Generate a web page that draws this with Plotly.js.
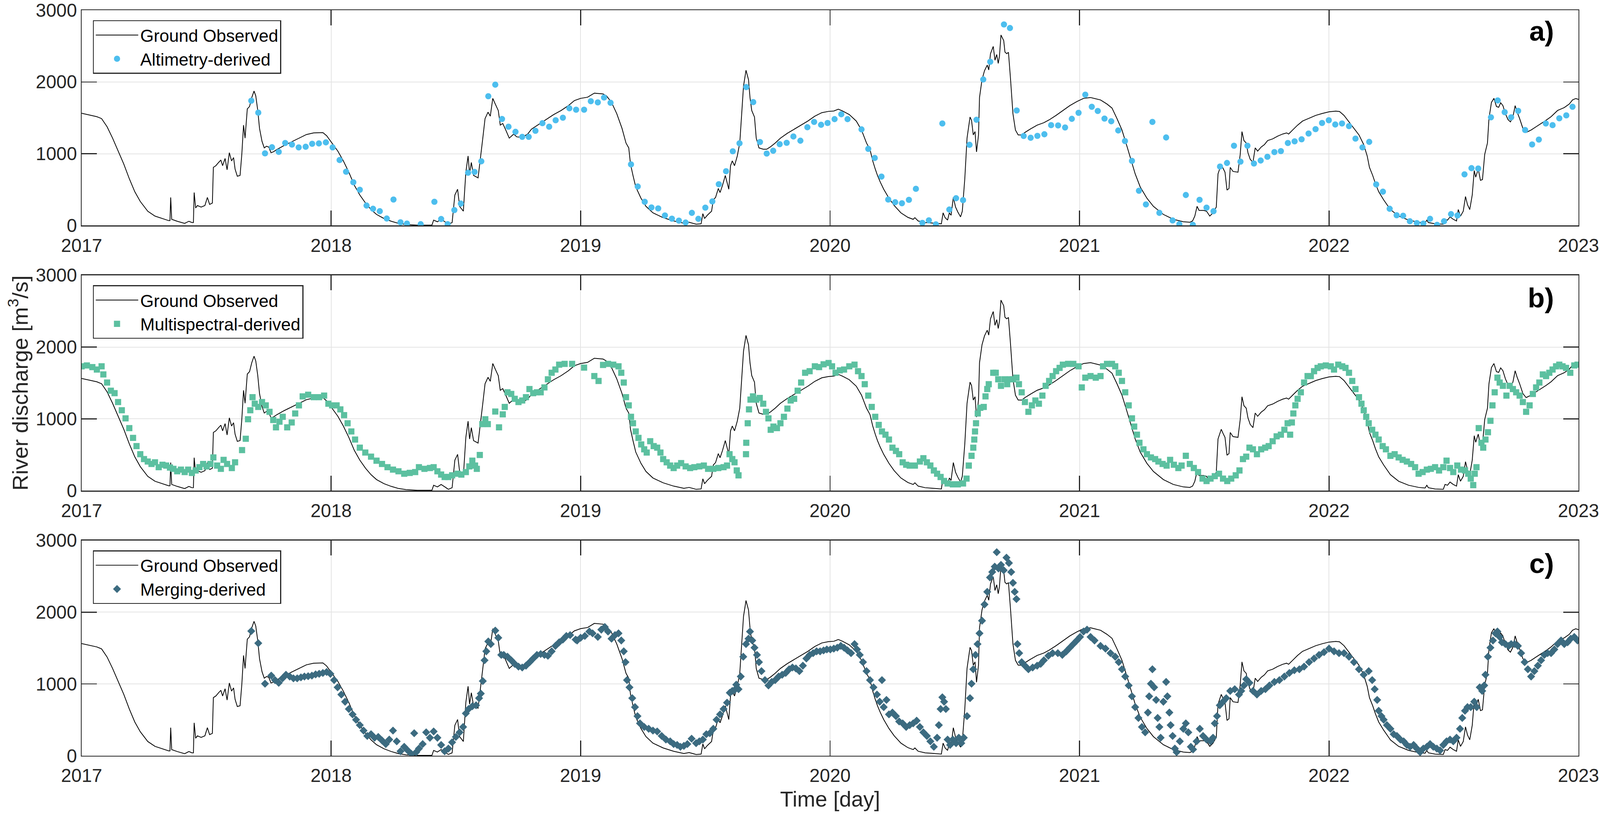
<!DOCTYPE html>
<html>
<head>
<meta charset="utf-8">
<script src="https://cdn.plot.ly/plotly-3.0.1.min.js"></script>
<style>
html,body{margin:0;padding:0;background:#fff;overflow:hidden;}
#chart{position:absolute;left:0;top:0;}
</style>
</head>
<body>
<div id="chart"></div>
<script>
// ---------------- DATA ----------------
const yearTicks = [2017, 2018, 2019, 2020, 2021, 2022, 2023];
const valueTicks = [0, 1000, 2000, 3000];

// Ground observed discharge (decimal year, m3/s)
const groundT = [
2017.000,2017.061,2017.080,2017.102,2017.124,2017.146,2017.169,2017.191,2017.213,2017.235,
2017.265,2017.294,2017.324,2017.349,2017.354,2017.357,2017.361,2017.383,2017.413,2017.430,
2017.442,2017.448,2017.451,2017.457,2017.464,2017.479,2017.494,2017.504,2017.513,2017.524,
2017.528,2017.538,2017.549,2017.558,2017.565,2017.575,2017.583,2017.592,2017.601,2017.609,
2017.615,2017.624,2017.635,2017.642,2017.649,2017.655,2017.664,2017.673,2017.682,2017.691,
2017.698,2017.706,2017.713,2017.723,2017.732,2017.741,2017.750,2017.759,2017.768,2017.783,
2017.812,2017.842,2017.871,2017.901,2017.930,2017.967,2017.982,2018.004,2018.027,2018.049,
2018.071,2018.093,2018.115,2018.138,2018.160,2018.182,2018.212,2018.241,2018.271,2018.300,
2018.345,2018.404,2018.411,2018.426,2018.441,2018.456,2018.470,2018.485,2018.496,2018.507,
2018.515,2018.530,2018.540,2018.549,2018.555,2018.562,2018.571,2018.589,2018.596,2018.608,
2018.617,2018.629,2018.638,2018.648,2018.658,2018.670,2018.678,2018.688,2018.700,2018.714,
2018.732,2018.744,2018.766,2018.788,2018.803,2018.833,2018.862,2018.892,2018.922,2018.951,
2018.975,2019.000,2019.028,2019.055,2019.090,2019.104,2019.124,2019.145,2019.166,2019.182,
2019.193,2019.200,2019.210,2019.221,2019.242,2019.262,2019.290,2019.331,2019.373,2019.414,
2019.435,2019.463,2019.483,2019.490,2019.497,2019.508,2019.525,2019.532,2019.541,2019.552,
2019.559,2019.569,2019.580,2019.587,2019.594,2019.601,2019.608,2019.617,2019.628,2019.638,
2019.646,2019.653,2019.663,2019.673,2019.679,2019.686,2019.697,2019.704,2019.715,2019.732,
2019.746,2019.760,2019.780,2019.801,2019.829,2019.856,2019.884,2019.911,2019.939,2019.967,
2019.994,2020.015,2020.033,2020.050,2020.077,2020.105,2020.126,2020.146,2020.160,2020.171,
2020.181,2020.190,2020.201,2020.215,2020.236,2020.257,2020.284,2020.312,2020.333,2020.340,
2020.353,2020.381,2020.409,2020.446,2020.453,2020.461,2020.471,2020.478,2020.485,2020.494,
2020.503,2020.512,2020.523,2020.530,2020.540,2020.549,2020.561,2020.567,2020.574,2020.581,
2020.587,2020.595,2020.599,2020.609,2020.619,2020.630,2020.636,2020.643,2020.654,2020.661,
2020.668,2020.674,2020.679,2020.685,2020.696,2020.701,2020.708,2020.715,2020.723,2020.733,
2020.743,2020.754,2020.768,2020.781,2020.802,2020.830,2020.857,2020.878,2020.906,2020.933,
2020.961,2020.989,2021.016,2021.044,2021.084,2021.110,2021.130,2021.150,2021.170,2021.190,
2021.210,2021.223,2021.243,2021.270,2021.296,2021.336,2021.376,2021.416,2021.442,2021.453,
2021.462,2021.471,2021.479,2021.498,2021.509,2021.522,2021.535,2021.548,2021.555,2021.562,
2021.568,2021.575,2021.583,2021.591,2021.599,2021.604,2021.615,2021.635,2021.644,2021.651,
2021.659,2021.668,2021.675,2021.684,2021.695,2021.704,2021.714,2021.728,2021.741,2021.754,
2021.774,2021.794,2021.814,2021.830,2021.838,2021.854,2021.874,2021.894,2021.920,2021.947,
2021.973,2022.000,2022.027,2022.042,2022.060,2022.080,2022.100,2022.120,2022.139,2022.153,
2022.162,2022.175,2022.186,2022.199,2022.219,2022.246,2022.279,2022.319,2022.359,2022.385,
2022.392,2022.398,2022.425,2022.458,2022.465,2022.475,2022.485,2022.498,2022.511,2022.518,
2022.527,2022.538,2022.547,2022.555,2022.564,2022.574,2022.582,2022.588,2022.598,2022.607,
2022.615,2022.624,2022.635,2022.641,2022.651,2022.661,2022.671,2022.680,2022.688,2022.697,
2022.707,2022.717,2022.727,2022.737,2022.746,2022.754,2022.764,2022.777,2022.790,2022.810,
2022.830,2022.850,2022.870,2022.890,2022.916,2022.943,2022.963,2022.976,2022.989,2023.000
];
const groundQ = [
1563,1516,1489,1376,1217,1036,855,652,471,335,
199,131,97,68,68,391,86,59,29,59,
41,41,459,244,278,256,278,391,294,312,
810,833,878,912,833,934,776,1014,900,946,
787,686,697,991,1398,1217,1624,1658,1783,1873,
1805,1602,1353,1172,1081,1104,1093,1014,1025,1059,
1115,1167,1217,1267,1290,1294,1251,1149,1036,900,
742,561,425,312,222,154,97,59,29,14,
5,5,75,52,86,52,18,41,425,505,
267,199,742,968,719,878,697,663,855,1217,
1489,1579,1523,1771,1692,1602,1398,1421,1330,1217,
1274,1235,1228,1274,1342,1410,1477,1545,1602,1670,
1740,1771,1787,1844,1833,1805,1715,1557,1353,1149,
1081,855,697,538,380,267,176,109,63,32,
45,18,23,165,97,143,199,357,391,516,
459,561,697,606,505,833,900,833,968,1149,
1557,1941,2163,2032,1783,1602,1511,1217,1081,1063,
1063,1093,1149,1217,1285,1342,1398,1455,1523,1572,
1590,1595,1620,1595,1545,1455,1330,1149,1059,900,
787,697,606,505,380,278,176,113,86,109,
63,41,34,23,176,109,75,176,143,391,
256,188,120,199,652,1217,1511,1466,1262,1308,
1025,1262,1783,2032,2156,2235,2167,2394,2495,2303,
2382,2258,2360,2654,2575,2416,2394,2412,2054,1557,
1330,1262,1262,1296,1342,1398,1432,1471,1534,1602,
1670,1726,1771,1783,1749,1692,1636,1489,1330,1104,
878,719,538,380,267,154,86,52,45,63,
131,267,210,210,199,131,176,256,719,787,
855,799,742,493,516,810,753,742,991,1308,
1183,1149,1014,923,878,1081,1036,1093,1127,1183,
1206,1244,1274,1290,1274,1330,1398,1455,1493,1534,
1561,1584,1593,1588,1534,1443,1353,1262,1127,968,
810,697,584,471,357,222,131,75,45,36,
75,41,23,18,86,75,120,86,63,222,
131,199,403,290,222,425,765,674,787,629,
640,991,1149,1489,1715,1771,1658,1647,1710,1670,
1557,1477,1443,1511,1670,1579,1489,1353,1296,1330,
1376,1421,1466,1516,1602,1643,1692,1749,1769,1756
];

// Altimetry-derived discharge
const altT = [
2017.680,2017.708,2017.735,2017.763,2017.790,2017.816,2017.843,2017.870,2017.898,2017.924,
2017.951,2017.979,2018.006,2018.034,2018.060,2018.089,2018.115,2018.142,2018.168,2018.195,
2018.223,2018.250,2018.278,2018.304,2018.359,2018.414,2018.441,2018.467,2018.494,2018.520,
2018.549,2018.575,2018.602,2018.630,2018.658,2018.685,2018.711,2018.739,2018.766,2018.792,
2018.819,2018.847,2018.874,2018.900,2018.929,2018.955,2018.982,
2019.014,2019.041,2019.069,2019.094,2019.120,
2019.202,2019.229,2019.257,2019.284,2019.311,2019.338,2019.366,2019.394,2019.421,2019.446,
2019.472,2019.500,2019.528,2019.554,2019.583,2019.610,2019.637,2019.664,2019.692,2019.719,
2019.746,2019.772,2019.798,2019.826,2019.853,2019.881,2019.909,2019.936,2019.964,2019.990,
2020.018,2020.045,2020.070,2020.126,2020.153,2020.179,2020.206,2020.233,2020.261,2020.288,
2020.316,2020.344,2020.370,2020.396,2020.424,2020.450,2020.478,2020.505,2020.533,2020.559,
2020.587,2020.614,2020.642,2020.697,2020.721,2020.748,2020.776,2020.804,2020.831,2020.859,
2020.886,2020.914,2020.942,2020.969,2020.996,2021.023,2021.049,2021.073,
2021.100,2021.127,2021.155,2021.182,2021.210,2021.238,2021.266,2021.292,2021.320,2021.347,
2021.373,2021.400,2021.426,2021.454,2021.481,2021.509,2021.537,2021.563,2021.591,2021.619,
2021.645,2021.673,2021.699,2021.726,2021.753,2021.781,2021.807,2021.835,2021.862,2021.890,
2021.918,2021.946,2021.972,2021.999,2022.025,2022.052,2022.080,2022.106,2022.134,2022.161,
2022.189,2022.216,2022.243,2022.271,2022.297,2022.324,2022.352,2022.378,2022.405,2022.433,
2022.461,2022.489,2022.515,2022.543,2022.571,2022.598,2022.649,2022.676,2022.704,2022.730,
2022.758,2022.786,2022.814,2022.841,2022.869,2022.896,2022.923,2022.951,2022.976
];
const altQ = [
1738,1572,1005,1090,1025,1149,1127,1088,1097,1138,
1143,1158,1088,912,749,602,498,278,233,199,
97,362,45,27,18,330,90,18,215,305,
735,747,894,1801,1962,1484,1376,1305,1235,1235,
1319,1425,1376,1466,1502,1633,1613,
1613,1731,1715,1783,1710,
851,543,330,251,238,140,95,68,41,176,
93,249,335,575,756,1034,1145,1928,1719,1163,
1002,1041,1133,1152,1240,1181,1369,1443,1403,1428,
1482,1550,1482,1339,1068,941,681,362,324,310,
357,511,36,72,16,1421,222,380,353,1124,
1473,2034,2281,2801,2751,1602,1247,1222,1249,1271,
1398,1394,1366,1486,1570,1823,1654,1595,
1489,1452,1324,1176,900,484,294,1443,176,1226,
70,18,425,9,357,249,199,821,871,1111,
889,1111,864,905,957,1023,1036,1149,1172,1201,
1281,1342,1428,1466,1407,1421,1385,1210,1088,1165,
572,471,233,143,136,59,34,27,93,9,
59,158,140,713,799,794,1507,1742,1579,1507,
1597,1330,1129,1197,1421,1398,1493,1534,1654
];

// Multispectral-derived discharge
const multiT = [
2017.000,2017.021,2017.043,2017.061,2017.080,2017.087,2017.102,2017.117,2017.132,2017.146,
2017.161,2017.176,2017.191,2017.206,2017.220,2017.235,2017.250,2017.265,2017.280,2017.294,
2017.309,2017.324,2017.339,2017.354,2017.368,2017.383,2017.398,2017.413,2017.427,2017.442,
2017.457,2017.472,2017.487,2017.501,2017.516,2017.528,2017.543,2017.558,2017.569,2017.583,
2017.602,2017.615,2017.643,2017.658,2017.667,2017.676,2017.685,2017.694,2017.708,2017.723,
2017.738,2017.753,2017.768,2017.779,2017.793,2017.806,2017.824,2017.842,2017.856,2017.871,
2017.886,2017.908,2017.930,2017.952,2017.972,2017.989,2018.004,2018.022,2018.037,2018.052,
2018.066,2018.081,2018.096,2018.115,2018.137,2018.160,2018.182,2018.204,2018.226,2018.248,
2018.270,2018.293,2018.315,2018.337,2018.352,2018.374,2018.396,2018.411,2018.426,2018.441,
2018.455,2018.470,2018.485,2018.507,2018.522,2018.540,2018.554,2018.566,2018.577,2018.584,
2018.596,2018.606,2018.618,2018.628,2018.658,2018.673,2018.688,2018.696,2018.707,2018.722,
2018.736,2018.751,2018.766,2018.781,2018.795,2018.810,2018.825,2018.840,2018.855,2018.869,
2018.884,2018.899,2018.914,2018.936,2018.966,2019.014,2019.055,2019.072,2019.090,2019.110,
2019.131,2019.152,2019.163,2019.173,2019.182,2019.193,2019.202,2019.210,2019.221,2019.232,
2019.243,2019.255,2019.265,2019.279,2019.293,2019.307,2019.320,2019.331,2019.345,2019.359,
2019.373,2019.387,2019.403,2019.421,2019.439,2019.456,2019.476,2019.494,2019.511,2019.532,
2019.552,2019.573,2019.587,2019.597,2019.608,2019.617,2019.626,2019.633,2019.663,2019.664,
2019.670,2019.675,2019.681,2019.691,2019.704,2019.718,2019.732,2019.743,2019.753,2019.762,
2019.773,2019.787,2019.801,2019.815,2019.829,2019.842,2019.856,2019.870,2019.884,2019.900,
2019.918,2019.939,2019.956,2019.974,2019.994,2020.008,2020.022,2020.039,2020.056,2020.077,
2020.098,2020.112,2020.126,2020.139,2020.153,2020.167,2020.181,2020.195,2020.208,2020.222,
2020.236,2020.250,2020.264,2020.277,2020.291,2020.305,2020.319,2020.340,2020.360,2020.374,
2020.388,2020.402,2020.416,2020.429,2020.443,2020.457,2020.471,2020.492,2020.512,2020.533,
2020.547,2020.556,2020.567,2020.574,2020.578,2020.581,2020.585,2020.592,2020.602,2020.616,
2020.623,2020.630,2020.636,2020.654,2020.664,2020.674,2020.685,2020.699,2020.710,2020.721,
2020.733,2020.747,2020.757,2020.768,2020.781,2020.795,2020.809,2020.823,2020.837,2020.851,
2020.864,2020.878,2020.892,2020.906,2020.920,2020.933,2020.954,2020.975,2020.996,2021.009,
2021.023,2021.044,2021.065,2021.084,2021.094,2021.110,2021.130,2021.143,2021.157,2021.170,
2021.183,2021.197,2021.210,2021.219,2021.230,2021.240,2021.256,2021.270,2021.286,2021.303,
2021.316,2021.333,2021.349,2021.363,2021.378,2021.396,2021.409,2021.426,2021.442,2021.458,
2021.475,2021.493,2021.509,2021.525,2021.542,2021.559,2021.575,2021.592,2021.608,2021.626,
2021.641,2021.655,2021.668,2021.681,2021.695,2021.711,2021.728,2021.744,2021.758,2021.774,
2021.790,2021.807,2021.821,2021.834,2021.844,2021.851,2021.857,2021.865,2021.874,2021.887,
2021.900,2021.914,2021.927,2021.940,2021.954,2021.967,2021.987,2022.007,2022.020,2022.037,
2022.053,2022.066,2022.080,2022.093,2022.106,2022.120,2022.130,2022.139,2022.149,2022.159,
2022.173,2022.186,2022.199,2022.215,2022.228,2022.246,2022.263,2022.279,2022.295,2022.312,
2022.329,2022.345,2022.359,2022.375,2022.392,2022.408,2022.425,2022.441,2022.458,2022.471,
2022.485,2022.498,2022.514,2022.529,2022.545,2022.558,2022.568,2022.578,2022.584,2022.591,
2022.600,2022.611,2022.618,2022.627,2022.637,2022.647,2022.655,2022.664,2022.675,2022.684,
2022.697,2022.711,2022.724,2022.737,2022.750,2022.764,2022.777,2022.790,2022.804,2022.817,
2022.830,2022.843,2022.857,2022.870,2022.883,2022.896,2022.910,2022.923,2022.936,2022.950,
2022.967,2022.983,2022.996
];
const multiQ = [
1732,1744,1721,1687,1732,1619,1506,1392,1358,1234,
1120,1007,871,735,621,508,440,406,372,395,
327,361,349,322,304,270,293,259,293,247,
281,327,372,338,372,463,349,304,429,372,
315,395,565,723,995,1120,1302,1211,1166,1234,
1188,1098,984,882,961,1029,882,950,1075,1188,
1313,1336,1302,1302,1324,1211,1188,1188,1132,1052,
939,825,712,599,531,474,417,372,327,293,
270,236,247,259,327,304,315,327,270,224,
190,190,213,236,224,259,338,417,349,304,
497,927,995,927,1102,882,1063,1166,1370,1347,
1279,1234,1256,1302,1415,1358,1370,1370,1438,1551,
1642,1687,1755,1766,1766,1714,1596,1528,1751,1766,
1755,1732,1642,1506,1302,1188,1029,939,825,735,
644,576,531,689,621,599,531,440,395,349,
315,349,383,338,315,327,338,349,304,304,
315,327,349,508,440,395,281,213,508,667,
939,1132,1268,1313,1268,1291,1211,1098,1007,848,
893,871,939,1029,1143,1256,1279,1392,1506,1642,
1664,1732,1721,1760,1778,1732,1642,1676,1687,1732,
1755,1664,1596,1483,1324,1166,1029,916,825,780,
712,599,553,508,395,361,349,349,406,451,
395,349,281,236,190,134,100,88,88,100,
168,349,485,599,712,825,939,1075,1154,1166,
1313,1415,1483,1642,1642,1551,1460,1551,1483,1551,
1551,1574,1483,1370,1234,1098,1188,1256,1211,1324,
1460,1528,1596,1664,1710,1755,1766,1766,1732,1438,
1574,1596,1574,1596,1732,1766,1766,1732,1642,1528,
1370,1188,1007,893,780,667,576,508,463,440,
406,372,349,429,361,315,349,485,372,315,
259,168,134,168,202,236,168,134,168,213,
281,440,474,599,576,508,576,599,621,689,
757,780,848,939,780,950,1075,1188,1279,1370,
1506,1596,1596,1664,1710,1732,1744,1732,1687,1755,
1732,1710,1642,1528,1415,1302,1211,1120,1029,939,
848,780,712,621,576,485,508,463,429,406,
372,327,236,259,293,304,327,281,327,417,
315,259,349,293,281,236,168,77,236,327,
871,667,599,712,814,973,1188,1370,1574,1506,
1460,1324,1460,1415,1370,1324,1234,1098,1188,1347,
1438,1506,1619,1596,1642,1687,1732,1755,1732,1710,
1642,1744,1755
];

// Merging-derived discharge
const mergeT = [
2017.680,2017.708,2017.735,2017.760,2017.775,2017.790,2017.805,2017.819,2017.834,2017.849,
2017.864,2017.879,2017.893,2017.908,2017.923,2017.938,2017.952,2017.967,2017.982,2017.997,
2018.012,2018.026,2018.041,2018.056,2018.071,2018.086,2018.100,2018.115,2018.130,2018.145,
2018.160,2018.174,2018.189,2018.204,2018.219,2018.233,2018.248,2018.263,2018.278,2018.293,
2018.307,2018.322,2018.333,2018.341,2018.352,2018.367,2018.381,2018.396,2018.411,2018.426,
2018.441,2018.455,2018.470,2018.485,2018.500,2018.515,2018.529,2018.540,2018.551,2018.566,
2018.581,2018.593,2018.600,2018.608,2018.615,2018.622,2018.630,2018.640,2018.658,2018.670,
2018.682,2018.692,2018.707,2018.722,2018.736,2018.751,2018.766,2018.781,2018.796,2018.810,
2018.825,2018.840,2018.855,2018.869,2018.884,2018.899,2018.914,2018.929,2018.943,2018.958,
2018.980,2018.986,2019.000,2019.017,2019.035,2019.048,2019.069,2019.083,2019.097,2019.110,
2019.124,2019.138,2019.152,2019.163,2019.173,2019.180,2019.186,2019.196,2019.207,2019.218,
2019.228,2019.238,2019.255,2019.273,2019.290,2019.307,2019.325,2019.342,2019.359,2019.373,
2019.387,2019.400,2019.414,2019.428,2019.445,2019.463,2019.476,2019.490,2019.504,2019.518,
2019.532,2019.545,2019.559,2019.573,2019.587,2019.598,2019.608,2019.617,2019.624,2019.633,
2019.642,2019.652,2019.663,2019.673,2019.679,2019.688,2019.697,2019.707,2019.715,2019.725,
2019.739,2019.753,2019.766,2019.780,2019.794,2019.808,2019.822,2019.836,2019.849,2019.863,
2019.877,2019.891,2019.905,2019.918,2019.932,2019.946,2019.960,2019.974,2019.987,2020.001,
2020.015,2020.029,2020.043,2020.056,2020.070,2020.084,2020.098,2020.108,2020.119,2020.132,
2020.146,2020.160,2020.174,2020.188,2020.199,2020.208,2020.215,2020.226,2020.236,2020.250,
2020.264,2020.277,2020.291,2020.305,2020.319,2020.333,2020.347,2020.360,2020.374,2020.388,
2020.402,2020.416,2020.429,2020.436,2020.443,2020.450,2020.457,2020.464,2020.471,2020.481,
2020.492,2020.505,2020.516,2020.526,2020.536,2020.549,2020.561,2020.567,2020.574,2020.583,
2020.591,2020.599,2020.609,2020.619,2020.630,2020.641,2020.650,2020.660,2020.668,2020.675,
2020.685,2020.696,2020.707,2020.717,2020.726,2020.733,2020.740,2020.747,2020.751,2020.758,
2020.768,2020.781,2020.795,2020.812,2020.830,2020.844,2020.857,2020.875,2020.892,2020.913,
2020.931,2020.947,2020.961,2020.975,2020.989,2021.002,2021.016,2021.030,2021.044,2021.060,
2021.084,2021.104,2021.124,2021.143,2021.157,2021.170,2021.183,2021.197,2021.210,2021.223,
2021.236,2021.250,2021.263,2021.274,2021.279,2021.286,2021.292,2021.299,2021.307,2021.313,
2021.320,2021.325,2021.336,2021.347,2021.352,2021.360,2021.365,2021.373,2021.382,2021.389,
2021.402,2021.416,2021.426,2021.436,2021.446,2021.455,2021.469,2021.482,2021.495,2021.509,
2021.525,2021.535,2021.542,2021.551,2021.562,2021.575,2021.588,2021.604,2021.622,2021.639,
2021.648,2021.659,2021.668,2021.681,2021.695,2021.711,2021.728,2021.745,2021.761,2021.781,
2021.801,2021.821,2021.841,2021.861,2021.881,2021.900,2021.920,2021.940,2021.960,2021.980,
2022.000,2022.020,2022.040,2022.060,2022.080,2022.100,2022.120,2022.139,2022.159,2022.173,
2022.183,2022.193,2022.199,2022.210,2022.219,2022.232,2022.246,2022.259,2022.272,2022.286,
2022.299,2022.312,2022.325,2022.339,2022.352,2022.365,2022.378,2022.392,2022.405,2022.418,
2022.432,2022.445,2022.458,2022.471,2022.485,2022.498,2022.511,2022.525,2022.534,2022.545,
2022.555,2022.568,2022.582,2022.592,2022.604,2022.614,2022.622,2022.627,2022.637,2022.647,
2022.657,2022.667,2022.675,2022.684,2022.693,2022.707,2022.720,2022.730,2022.744,2022.757,
2022.770,2022.784,2022.797,2022.810,2022.823,2022.837,2022.850,2022.863,2022.876,2022.890,
2022.903,2022.916,2022.930,2022.943,2022.956,2022.969,2022.983,2022.996
];
const mergeQ = [
1737,1568,1004,1117,1054,1016,1079,1129,1104,1079,
1079,1092,1104,1109,1117,1134,1142,1154,1167,1142,
1054,954,853,753,652,577,502,427,351,276,
301,251,263,213,163,226,351,201,63,125,
75,25,314,50,100,163,326,251,339,251,
151,63,100,188,263,326,401,590,652,690,
703,803,866,1041,1330,1455,1593,1556,1744,1644,
1405,1405,1380,1330,1280,1242,1230,1255,1305,1355,
1405,1418,1405,1393,1455,1531,1581,1619,1669,1681,
1619,1606,1644,1669,1731,1706,1656,1757,1794,1731,
1631,1681,1706,1606,1455,1305,1054,954,803,678,
552,452,401,376,351,339,276,226,201,163,
151,125,138,163,238,176,201,226,301,314,
376,502,577,652,740,878,903,916,991,928,
1104,1380,1556,1631,1731,1606,1506,1405,1305,1179,
1054,979,1029,1054,1104,1129,1154,1205,1230,1217,
1179,1255,1355,1405,1430,1455,1455,1468,1481,1481,
1493,1506,1531,1506,1468,1430,1556,1481,1405,1305,
1179,1054,954,853,753,1054,678,778,577,602,
552,477,452,401,427,452,489,401,326,276,
201,125,251,427,652,815,753,652,226,151,
226,176,251,176,251,552,803,1004,1205,1405,
1556,1706,1882,2108,2284,2484,2560,2635,2836,2610,
2660,2585,2760,2685,2560,2409,2284,2183,1556,1430,
1305,1255,1205,1230,1255,1280,1330,1393,1430,1430,
1405,1455,1506,1556,1606,1656,1731,1757,1656,1606,
1531,1493,1430,1380,1305,1205,1104,979,828,678,
527,401,326,602,828,1004,1205,954,778,527,
401,251,753,1029,828,602,427,276,100,50,
201,376,452,326,125,88,201,376,276,226,
201,251,452,552,703,753,803,903,928,853,
903,979,1066,1016,903,853,903,928,979,1029,
1054,1104,1154,1192,1205,1242,1305,1355,1405,1443,
1493,1455,1430,1430,1380,1305,1205,1129,1179,1054,
928,778,627,552,502,427,376,301,276,226,
201,151,125,151,100,50,100,125,163,125,
100,75,151,201,226,201,251,376,527,627,
678,678,753,678,954,903,979,1129,1380,1506,
1606,1706,1731,1656,1581,1556,1531,1556,1556,1531,
1430,1305,1205,1104,1179,1255,1330,1405,1430,1430,
1481,1556,1606,1556,1581,1631,1656,1606
];

// ---------------- STYLE ----------------
// The design is laid out for a 4145 x 2102 canvas; everything is scaled to the real viewport.
const BASE_W = 4145, BASE_H = 2102;
const vw = window.innerWidth || BASE_W, vh = window.innerHeight || BASE_H;
const S = Math.min(vw / BASE_W, vh / BASE_H);
const p = v => v * S;

const FONT = '"Liberation Sans", Arial, Helvetica, sans-serif';
const INK = '#262626';
const C_ALT = '#4DBEEE';
const C_MULTI = '#5CC0A0';
const C_MERGE = '#3C6B80';

function xAxis(anchor, showTitle) {
  const ax = {
    anchor: anchor, domain: [0, 1], range: [2017, 2023],
    tickmode: 'array', tickvals: yearTicks, ticktext: yearTicks.map(String),
    showline: true, linecolor: INK, linewidth: p(2.5), mirror: 'ticks',
    ticks: 'inside', ticklen: p(39), tickwidth: p(2.5), tickcolor: INK,
    showgrid: true, gridcolor: '#e4e4e4', gridwidth: p(2), zeroline: false,
    tickfont: {family: FONT, size: p(48), color: INK},
    ticklabelstandoff: Math.round(p(8)), ticklabeloverflow: 'allow'
  };
  if (showTitle) {
    ax.title = {text: 'Time [day]', font: {family: FONT, size: p(56), color: INK}, standoff: p(16)};
  }
  return ax;
}
function yAxis(anchor, domain, showTitle) {
  const ax = {
    anchor: anchor, domain: domain, range: [0, 3000],
    tickmode: 'array', tickvals: valueTicks, ticktext: valueTicks.map(String),
    showline: true, linecolor: INK, linewidth: p(2.5), mirror: 'ticks',
    ticks: 'inside', ticklen: p(39), tickwidth: p(2.5), tickcolor: INK,
    showgrid: true, gridcolor: '#e4e4e4', gridwidth: p(2), zeroline: false,
    tickfont: {family: FONT, size: p(48), color: INK},
    ticklabelstandoff: 0, ticklabeloverflow: 'allow'
  };
  if (showTitle) {
    ax.title = {text: 'River discharge [m<sup>3</sup>/s]', font: {family: FONT, size: p(57), color: INK}, standoff: p(2)};
  }
  return ax;
}
function legendBox(y) {
  return {
    x: 0.0075, y: y, xanchor: 'left', yanchor: 'top', xref: 'paper', yref: 'paper',
    bgcolor: '#ffffff', bordercolor: INK, borderwidth: p(2.5),
    font: {family: FONT, size: p(45), color: '#000'},
    itemwidth: Math.max(30, p(110)), tracegroupgap: 0, orientation: 'v'
  };
}

const groundLine = {color: '#000000', width: p(2)};

const traces = [
  {type: 'scatter', mode: 'lines', x: groundT, y: groundQ, name: 'Ground Observed',
   line: groundLine, xaxis: 'x', yaxis: 'y', legend: 'legend', hoverinfo: 'skip'},
  {type: 'scatter', mode: 'markers', x: altT, y: altQ, name: 'Altimetry-derived',
   marker: {symbol: 'circle', size: p(16), color: C_ALT, line: {width: 0}},
   xaxis: 'x', yaxis: 'y', legend: 'legend', hoverinfo: 'skip'},
  {type: 'scatter', mode: 'lines', x: groundT, y: groundQ, name: 'Ground Observed',
   line: groundLine, xaxis: 'x2', yaxis: 'y2', legend: 'legend2', hoverinfo: 'skip'},
  {type: 'scatter', mode: 'markers', x: multiT, y: multiQ, name: 'Multispectral-derived',
   marker: {symbol: 'square', size: p(16), color: C_MULTI, line: {width: 0}},
   xaxis: 'x2', yaxis: 'y2', legend: 'legend2', hoverinfo: 'skip'},
  {type: 'scatter', mode: 'lines', x: groundT, y: groundQ, name: 'Ground Observed',
   line: groundLine, xaxis: 'x3', yaxis: 'y3', legend: 'legend3', hoverinfo: 'skip'},
  {type: 'scatter', mode: 'markers', x: mergeT, y: mergeQ, name: 'Merging-derived',
   marker: {symbol: 'diamond', size: p(16), color: C_MERGE, line: {width: 0}},
   xaxis: 'x3', yaxis: 'y3', legend: 'legend3', hoverinfo: 'skip'}
];

const panelLabel = (txt, y) => ({
  text: '<b>' + txt + '</b>', xref: 'paper', yref: 'paper', x: 0.984, y: y,
  xanchor: 'right', yanchor: 'middle', showarrow: false,
  font: {family: FONT, size: p(72), color: '#000'}
});

const layout = {
  width: Math.round(BASE_W * S), height: Math.round(BASE_H * S),
  margin: {l: p(211), r: p(56), t: p(26), b: p(144), pad: 0, autoexpand: false},
  paper_bgcolor: '#ffffff', plot_bgcolor: '#ffffff',
  showlegend: true,
  font: {family: FONT, color: INK},
  xaxis: xAxis('y', false),
  yaxis: yAxis('x', [0.7112, 1], false),
  xaxis2: xAxis('y2', false),
  yaxis2: yAxis('x2', [0.3556, 0.6444], true),
  xaxis3: xAxis('y3', true),
  yaxis3: yAxis('x3', [0, 0.2888], false),
  legend: legendBox(0.9865),
  legend2: legendBox(0.6310),
  legend3: legendBox(0.2754),
  annotations: [panelLabel('a)', 0.9720), panelLabel('b)', 0.6144), panelLabel('c)', 0.2578)]
};

Plotly.newPlot('chart', traces, layout, {displayModeBar: false, staticPlot: true});
</script>
</body>
</html>
